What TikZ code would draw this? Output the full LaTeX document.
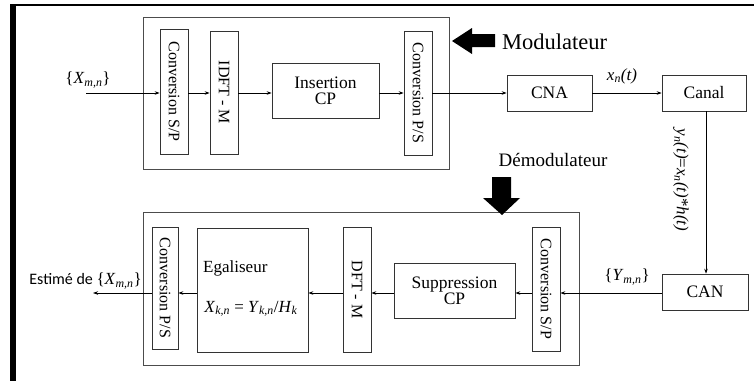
\documentclass[tikz,border=0pt]{standalone}
\usepackage{fontspec}
\setmainfont{Liberation Serif}
\newfontfamily\calib{Carlito}
\usetikzlibrary{arrows.meta}
\tikzset{
  blk/.style={draw=black!80, line width=0.7pt, inner sep=0pt},
  frame/.style={draw=black!70, line width=0.7pt},
  vtxt/.style={rotate=-90, font=\fontsize{16}{18}\selectfont},
  btxt/.style={font=\fontsize{17.5}{19}\selectfont, align=center},
  con/.style={draw=black, line width=0.7pt, -{Stealth[length=5pt,width=3.5pt]}},
  lbl/.style={inner sep=0pt, font=\fontsize{17}{19}\selectfont}
}
\newcommand\sbs[1]{\textsubscript{#1}}
\begin{document}
\begin{tikzpicture}[x=1pt,y=-1pt]
\useasboundingbox (0,0) rectangle (754,381);
% frame border (left and top)
\fill[black] (10,4) rectangle (16,381);
\fill[black] (10,4) rectangle (754,5.7);
% modulator frame
\draw[frame] (143,17) rectangle (449,169);
% demodulator frame
\draw[frame] (143,212) rectangle (579,365);
% top blocks
\node[blk, minimum width=28pt, minimum height=125pt] (sp1) at (174,91.5) {};
\node[vtxt] at (sp1.center) {Conversion S/P};
\node[blk, minimum width=28pt, minimum height=123pt] (idft) at (224,92.5) {};
\node[vtxt] at (idft.center) {IDFT - M};
\node[blk, minimum width=107pt, minimum height=55pt, btxt] (ins) at (325.5,90.5) {Insertion\\[-3pt]CP};
\node[blk, minimum width=28pt, minimum height=124pt] (ps1) at (418,93) {};
\node[vtxt] at (ps1.center) {Conversion P/S};
\node[blk, minimum width=85pt, minimum height=36pt, btxt] (cna) at (549.5,93) {CNA};
\node[blk, minimum width=84pt, minimum height=36pt, btxt] (canal) at (704,93) {Canal};
\node[blk, minimum width=86pt, minimum height=36pt, btxt] (can) at (705,292) {CAN};
% bottom blocks
\node[blk, minimum width=26pt, minimum height=122pt] (ps2) at (165,288) {};
\node[vtxt] at (ps2.center) {Conversion P/S};
\node[blk, minimum width=111pt, minimum height=124pt] (ega) at (252.5,290) {};
\node[lbl, anchor=west] (egat) at (203,268) {Egaliseur};
\node[lbl] (eq) at (251,309) {\textit{X}\sbs{\textit{k,n}} = \textit{Y}\sbs{\textit{k,n}}/\textit{H}\sbs{\textit{k}}};
\node[blk, minimum width=28pt, minimum height=125pt] (dft) at (357,289.5) {};
\node[vtxt] at (dft.center) {DFT - M};
\node[blk, minimum width=121pt, minimum height=55pt, btxt] (sup) at (454.5,290.5) {Suppression\\[-3pt]CP};
\node[blk, minimum width=28pt, minimum height=124pt] (sp2) at (546,289) {};
\node[vtxt] at (sp2.center) {Conversion S/P};
% labels
\coordinate (in) at (86,93);
\coordinate (out) at (93,293);
\coordinate (ty) at (0,93);
\coordinate (by) at (0,293);
\node[lbl] (xin) at (88,80) {\{\textit{X}\sbs{\textit{m,n}}\}};
\node[lbl] (xnt) at (622,76) {\textit{x}\sbs{\textit{n}}\textit{(t)}};
\node[lbl] (ymn) at (627,277) {\{\textit{Y}\sbs{\textit{m,n}}\}};
\node[lbl, anchor=east] (est) at (142,281) {{\calib\fontsize{16}{18}\selectfont Estimé de }\{\textit{X}\sbs{\textit{m,n}}\}};
\node[lbl, rotate=-90] (yn) at (681,180) {\textit{y}\sbs{\textit{n}}\textit{(t)}=\textit{x}\sbs{\textit{n}}\textit{(t)}*\textit{h(t)}};
\node[lbl, anchor=west, font=\fontsize{22.5}{24}\selectfont] (mod) at (502,42) {Modulateur};
\node[lbl, font=\fontsize{19}{21}\selectfont] (dem) at (553,160) {Démodulateur};
% block arrows
\fill[black] (452,41) -- (472,28) -- (472,34) -- (495,34) -- (495,47) -- (472,47) -- (472,54) -- cycle;
\fill[black] (502,215) -- (483,198) -- (492,198) -- (492,177) -- (511,177) -- (511,198) -- (520,198) -- cycle;
% connectors top
\draw[con] (in) -- (sp1.west |- in);
\draw[con] (sp1.east |- ty) -- (idft.west |- ty);
\draw[con] (idft.east |- ty) -- (ins.west |- ty);
\draw[con] (ins.east |- ty) -- (ps1.west |- ty);
\draw[con] (ps1.east |- ty) -- (cna.west |- ty);
\draw[con] (cna.east |- ty) -- (canal.west |- ty);
\draw[con] (canal.south -| 706,0) -- (can.north -| 706,0);
% connectors bottom
\draw[con] (can.west |- by) -- (sp2.east |- by);
\draw[con] (sp2.west |- by) -- (sup.east |- by);
\draw[con] (sup.west |- by) -- (dft.east |- by);
\draw[con] (dft.west |- by) -- (ega.east |- by);
\draw[con] (ega.west |- by) -- (ps2.east |- by);
\draw[con] (ps2.west |- by) -- (out);
\end{tikzpicture}
\end{document}
